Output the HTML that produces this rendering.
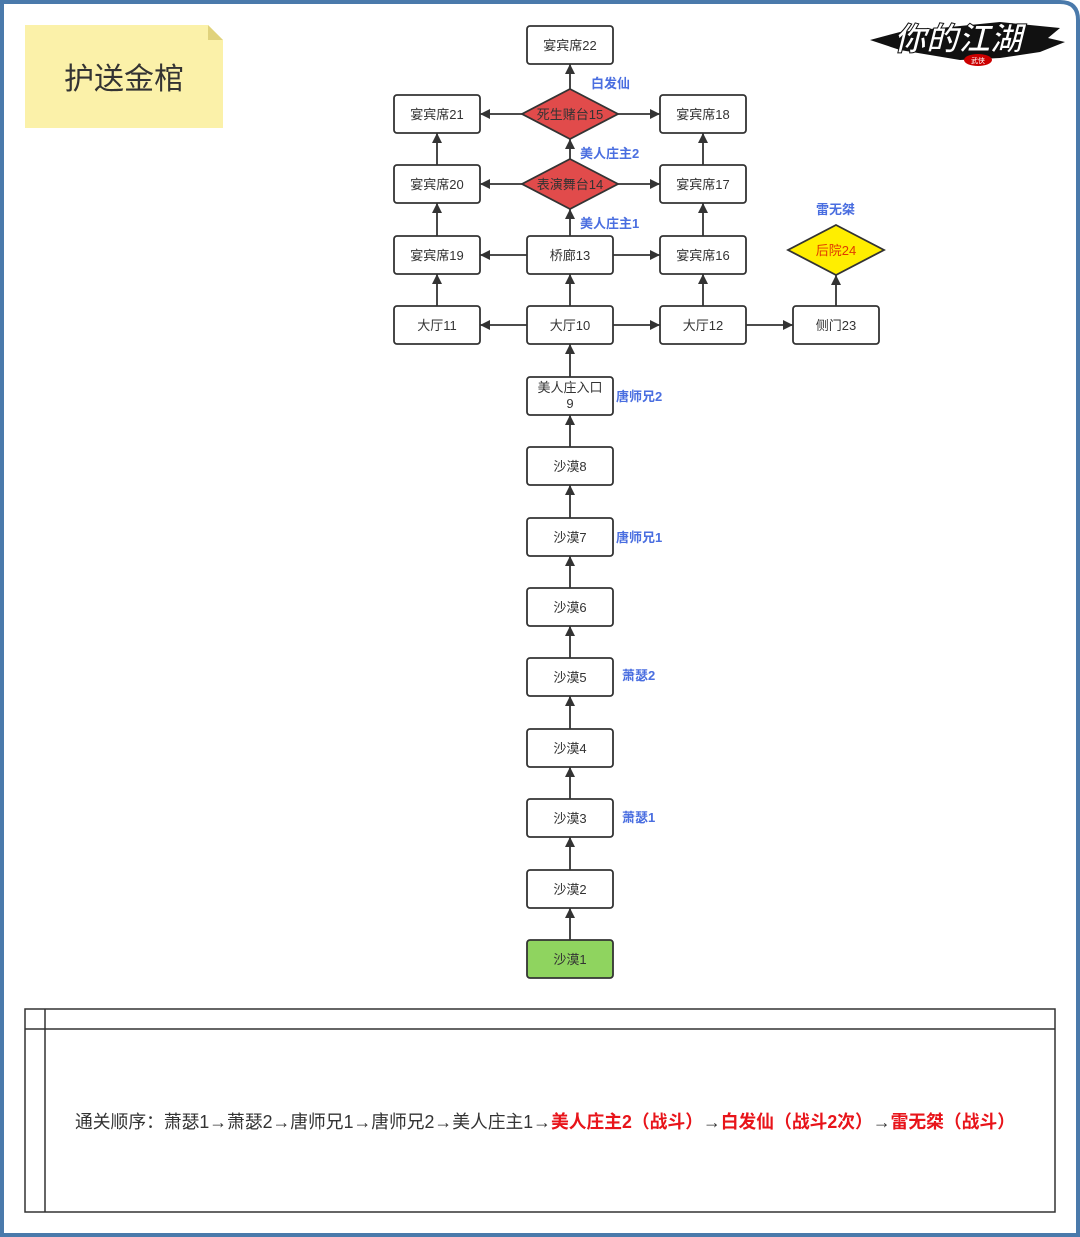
<!DOCTYPE html>
<html><head><meta charset="utf-8"><style>
html,body{margin:0;padding:0;background:#fff;}
svg{display:block;}
text{font-family:"Liberation Sans","Noto Sans CJK SC",sans-serif;}
</style></head><body>
<svg width="1080" height="1237" viewBox="0 0 1080 1237" xmlns="http://www.w3.org/2000/svg">
<defs>
<marker id="a" viewBox="0 0 10 10" refX="10" refY="5" markerWidth="11" markerHeight="10" markerUnits="userSpaceOnUse" orient="auto">
<path d="M0,0 L10,5 L0,10 z" fill="#333"/>
</marker>
</defs>
<rect x="0" y="0" width="1080" height="1237" fill="#fff"/>
<path d="M2,1237 L2,2 L1060,2 Q1078,2 1078,20 L1078,1237" fill="none" stroke="#4a7aab" stroke-width="4"/>
<rect x="0" y="1233" width="1080" height="4" fill="#4a7aab"/>

<!-- sticky note -->
<path d="M25,25 L208,25 L223,40 L223,128 L25,128 z" fill="#fbf1a9"/>
<path d="M208,25 L208,40 L223,40 z" fill="#e0d27c"/>
<text x="124" y="89" font-size="30" text-anchor="middle" fill="#333">护送金棺</text>

<!-- logo -->
<path d="M870,40 L900,32 L1000,22 L1060,28 L1048,38 L1065,42 L1040,52 L1000,58 L960,60 L900,50 z" fill="#111"/>
<text x="958" y="50" font-size="32" font-weight="bold" text-anchor="middle" fill="#fff" stroke="#111" stroke-width="1" font-style="italic">你的江湖</text>
<ellipse cx="978" cy="60" rx="14" ry="6" fill="#c00"/>
<text x="978" y="63" font-size="7" text-anchor="middle" fill="#fff">武侠</text>

<g stroke="#333" stroke-width="1.8" fill="none" marker-end="url(#a)">
<line x1="570" y1="940" x2="570" y2="908"/>
<line x1="570" y1="870" x2="570" y2="837"/>
<line x1="570" y1="799" x2="570" y2="767"/>
<line x1="570" y1="729" x2="570" y2="696"/>
<line x1="570" y1="658" x2="570" y2="626"/>
<line x1="570" y1="588" x2="570" y2="556"/>
<line x1="570" y1="518" x2="570" y2="485"/>
<line x1="570" y1="447" x2="570" y2="415"/>
<line x1="570" y1="377" x2="570" y2="344"/>
<line x1="570" y1="306" x2="570" y2="274"/>
<line x1="570" y1="236" x2="570" y2="209"/>
<line x1="570" y1="159" x2="570" y2="139"/>
<line x1="570" y1="89" x2="570" y2="64"/>
<line x1="527" y1="325" x2="480" y2="325"/>
<line x1="613" y1="325" x2="660" y2="325"/>
<line x1="746" y1="325" x2="793" y2="325"/>
<line x1="527" y1="255" x2="480" y2="255"/>
<line x1="613" y1="255" x2="660" y2="255"/>
<line x1="522" y1="184" x2="480" y2="184"/>
<line x1="618" y1="184" x2="660" y2="184"/>
<line x1="522" y1="114" x2="480" y2="114"/>
<line x1="618" y1="114" x2="660" y2="114"/>
<line x1="437" y1="306" x2="437" y2="274"/>
<line x1="437" y1="236" x2="437" y2="203"/>
<line x1="437" y1="165" x2="437" y2="133"/>
<line x1="703" y1="306" x2="703" y2="274"/>
<line x1="703" y1="236" x2="703" y2="203"/>
<line x1="703" y1="165" x2="703" y2="133"/>
<line x1="836" y1="306" x2="836" y2="275"/>
</g>

<g stroke="#333" stroke-width="1.8" fill="#fff">
<rect x="527" y="26" width="86" height="38" rx="3"/>
<rect x="394" y="95" width="86" height="38" rx="3"/>
<rect x="660" y="95" width="86" height="38" rx="3"/>
<rect x="394" y="165" width="86" height="38" rx="3"/>
<rect x="660" y="165" width="86" height="38" rx="3"/>
<rect x="394" y="236" width="86" height="38" rx="3"/>
<rect x="527" y="236" width="86" height="38" rx="3"/>
<rect x="660" y="236" width="86" height="38" rx="3"/>
<rect x="394" y="306" width="86" height="38" rx="3"/>
<rect x="527" y="306" width="86" height="38" rx="3"/>
<rect x="660" y="306" width="86" height="38" rx="3"/>
<rect x="793" y="306" width="86" height="38" rx="3"/>
<rect x="527" y="377" width="86" height="38" rx="3"/>
<rect x="527" y="447" width="86" height="38" rx="3"/>
<rect x="527" y="518" width="86" height="38" rx="3"/>
<rect x="527" y="588" width="86" height="38" rx="3"/>
<rect x="527" y="658" width="86" height="38" rx="3"/>
<rect x="527" y="729" width="86" height="38" rx="3"/>
<rect x="527" y="799" width="86" height="38" rx="3"/>
<rect x="527" y="870" width="86" height="38" rx="3"/>
<rect x="527" y="940" width="86" height="38" rx="3" fill="#8fd45f"/>
<path d="M570,89 L618,114 L570,139 L522,114 z" fill="#e14b4b"/>
<path d="M570,159 L618,184 L570,209 L522,184 z" fill="#e14b4b"/>
<path d="M836,225 L884,250 L836,275 L788,250 z" fill="#ffee00"/>
</g>

<g font-size="13" fill="#333" text-anchor="middle">
<text x="570" y="50">宴宾席22</text>
<text x="437" y="119">宴宾席21</text>
<text x="703" y="119">宴宾席18</text>
<text x="437" y="189">宴宾席20</text>
<text x="703" y="189">宴宾席17</text>
<text x="437" y="260">宴宾席19</text>
<text x="570" y="260">桥廊13</text>
<text x="703" y="260">宴宾席16</text>
<text x="437" y="330">大厅11</text>
<text x="570" y="330">大厅10</text>
<text x="703" y="330">大厅12</text>
<text x="836" y="330">侧门23</text>
<text x="570" y="392">美人庄入口</text>
<text x="570" y="408">9</text>
<text x="570" y="471">沙漠8</text>
<text x="570" y="542">沙漠7</text>
<text x="570" y="612">沙漠6</text>
<text x="570" y="682">沙漠5</text>
<text x="570" y="753">沙漠4</text>
<text x="570" y="823">沙漠3</text>
<text x="570" y="894">沙漠2</text>
<text x="570" y="964">沙漠1</text>
<text x="570" y="119">死生赌台15</text>
<text x="570" y="189">表演舞台14</text>
<text x="836" y="255" fill="#e03a00">后院24</text>
</g>

<g font-size="13" font-weight="bold" fill="#4a6ee0">
<text x="591" y="88">白发仙</text>
<text x="580" y="158">美人庄主2</text>
<text x="580" y="228">美人庄主1</text>
<text x="816" y="214">雷无桀</text>
<text x="616" y="401">唐师兄2</text>
<text x="616" y="542">唐师兄1</text>
<text x="622" y="680">萧瑟2</text>
<text x="622" y="822">萧瑟1</text>
</g>

<g stroke="#333" stroke-width="1.5" fill="none">
<rect x="25" y="1009" width="1030" height="203"/>
<line x1="25" y1="1029" x2="1055" y2="1029"/>
<line x1="45" y1="1009" x2="45" y2="1212"/>
</g>
<text x="75" y="1128" font-size="18" fill="#333" textLength="940" lengthAdjust="spacingAndGlyphs">通关顺序：萧瑟1→萧瑟2→唐师兄1→唐师兄2→美人庄主1→<tspan fill="#e8141a" font-weight="bold">美人庄主2（战斗）</tspan>→<tspan fill="#e8141a" font-weight="bold">白发仙（战斗2次）</tspan>→<tspan fill="#e8141a" font-weight="bold">雷无桀（战斗）</tspan></text>
</svg>
</body></html>
